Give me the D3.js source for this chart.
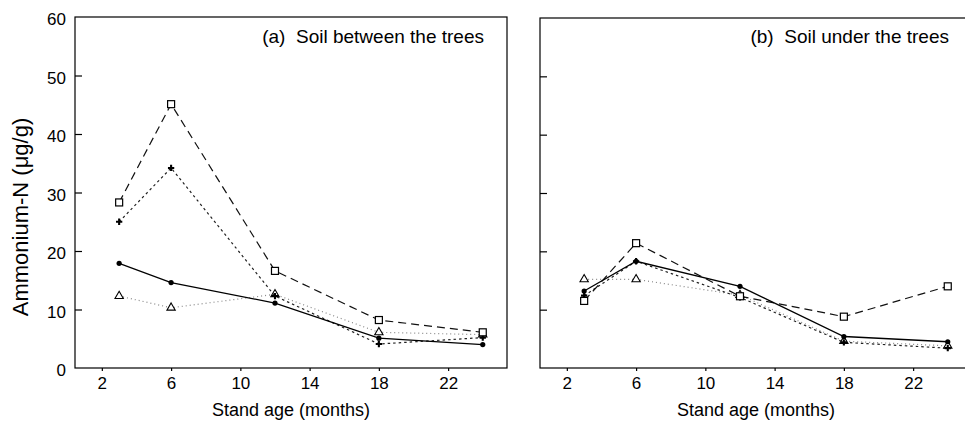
<!DOCTYPE html>
<html><head><meta charset="utf-8">
<script src="https://cdn.jsdelivr.net/npm/d3@7"></script>
<style>body{margin:0;background:#fff}svg{display:block}text{font-family:"Liberation Sans",Arial,sans-serif;fill:#000}</style>
</head><body><div id="chart"></div>
<script>
const months = [3, 6, 12, 18, 24];
const xTicks = [2, 6, 10, 14, 18, 22];
const yTicks = [0, 10, 20, 30, 40, 50, 60];
const panelTitles = ["(a)  Soil between the trees", "(b)  Soil under the trees"];
// Panel (a): soil between the trees
const squareA   = [28.3, 45.1, 16.6, 8.2, 6.1];
const plusA     = [25.0, 34.2, 12.3, 4.1, 5.2];
const circleA   = [17.9, 14.6, 11.1, 5.1, 4.0];
const triangleA = [12.3, 10.3, 12.6, 6.1, 5.7];
// Panel (b): soil under the trees
const squareB   = [11.5, 21.4, 12.3, 8.8, 14.0];
const plusB     = [12.4, 18.3, 12.1, 4.4, 3.4];
const circleB   = [13.2, 18.3, 14.0, 5.4, 4.5];
const triangleB = [15.2, 15.2, 12.5, 4.6, 3.8];

const W = 965, H = 424;
const svg = d3.select("#chart").append("svg").attr("width", W).attr("height", H);

const panels = [
  {left: 75, right: 507, top: 17, bottom: 368, labels: true, title: panelTitles[0],
   series: {square: squareA, plus: plusA, circle: circleA, triangle: triangleA}},
  {left: 540, right: 972, top: 18, bottom: 368, labels: false, title: panelTitles[1],
   series: {square: squareB, plus: plusB, circle: circleB, triangle: triangleB}}
];

const styles = {
  square:   {dash: "8,5", color: "#111", width: 1.2},
  plus:     {dash: "2.5,3", color: "#222", width: 1.2},
  circle:   {dash: null, color: "#000", width: 1.3},
  triangle: {dash: "1,3", color: "#888", width: 1.2}
};
const order = ["triangle", "plus", "square", "circle"];

panels.forEach(p => {
  const x = d3.scaleLinear().domain([0.45, 25.4]).range([p.left, p.right]);
  const y = d3.scaleLinear().domain([0, 60]).range([p.bottom, p.top]);
  const g = svg.append("g");

  g.append("rect").attr("x", p.left).attr("y", p.top)
    .attr("width", p.right - p.left).attr("height", p.bottom - p.top)
    .attr("fill", "none").attr("stroke", "#000").attr("stroke-width", 1.2);

  const yAx = g.append("g").attr("transform", `translate(${p.left},0)`)
    .call(d3.axisRight(y).tickValues(yTicks.slice(1, -1)).tickSize(7).tickFormat(""));
  yAx.select(".domain").remove();
  yAx.selectAll("line").attr("stroke", "#000").attr("stroke-width", 1.2);
  if (p.labels) {
    yTicks.forEach(v => {
      g.append("text").attr("x", p.left - 9).attr("y", y(v) + 8)
        .attr("text-anchor", "end").attr("font-size", 17).text(v);
    });
  }

  const xAx = g.append("g").attr("transform", `translate(0,${p.bottom})`)
    .call(d3.axisBottom(x).tickValues(xTicks).tickSize(3).tickPadding(6));
  xAx.select(".domain").remove();
  xAx.selectAll("line").attr("stroke", "#000").attr("stroke-width", 1.2);
  xAx.selectAll("text").attr("font-size", 17)
    .style("font-family", '"Liberation Sans",Arial,sans-serif').attr("fill", "#000");

  g.append("text").attr("x", (p.left + p.right) / 2).attr("y", 416)
    .attr("text-anchor", "middle").attr("font-size", 18).text("Stand age (months)");

  g.append("text").attr("x", p.right - 23).attr("y", 43)
    .attr("text-anchor", "end").attr("font-size", 19)
    .style("white-space", "pre").text(p.title);

  const line = d3.line().x((d, i) => x(months[i])).y(d => y(d));
  order.forEach(k => {
    const s = styles[k];
    const vals = p.series[k];
    g.append("path").datum(vals).attr("d", line).attr("fill", "none")
      .attr("stroke", s.color).attr("stroke-width", s.width)
      .attr("stroke-dasharray", s.dash);
    const mk = g.append("g");
    vals.forEach((v, i) => {
      const cx = x(months[i]), cy = y(v);
      if (k === "square") {
        mk.append("rect").attr("x", cx - 3.5).attr("y", cy - 3.5).attr("width", 7).attr("height", 7)
          .attr("fill", "#fff").attr("stroke", "#000").attr("stroke-width", 1.2);
      } else if (k === "circle") {
        mk.append("circle").attr("cx", cx).attr("cy", cy).attr("r", 2.6).attr("fill", "#000");
      } else if (k === "triangle") {
        mk.append("path").attr("d", d3.symbol(d3.symbolTriangle, 30)())
          .attr("transform", `translate(${cx},${cy})`)
          .attr("fill", "#fff").attr("stroke", "#000").attr("stroke-width", 1.1);
      } else {
        mk.append("path").attr("d", d3.symbol(d3.symbolCross, 22)())
          .attr("transform", `translate(${cx},${cy})`).attr("fill", "#000");
      }
    });
  });
});

svg.append("text").attr("transform", "translate(28,217) rotate(-90)")
  .attr("text-anchor", "middle").attr("font-size", 22).text("Ammonium-N (μg/g)");
</script></body></html>
